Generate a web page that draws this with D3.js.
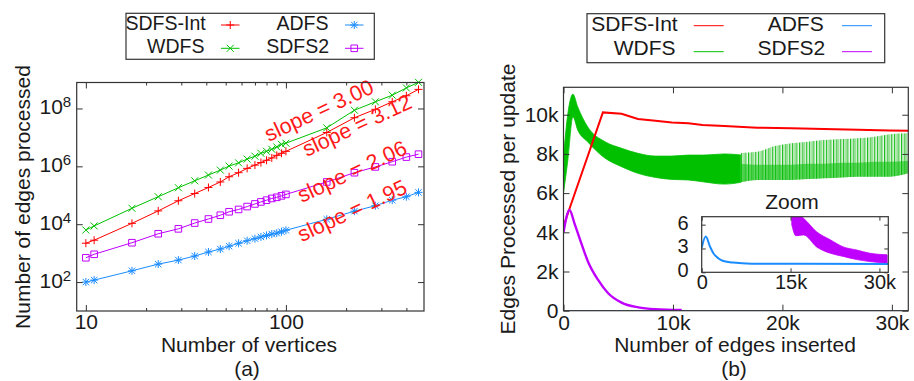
<!DOCTYPE html>
<html>
<head>
<meta charset="utf-8">
<script src="https://cdn.jsdelivr.net/npm/d3@7"></script>
<style>
  html, body { margin: 0; padding: 0; background: #fff; }
  svg { display: block; }
</style>
</head>
<body>
<figure id="chart" style="margin:0"></figure>
<script>
// ---------- panel (a): edges processed vs number of vertices (log-log)
const vertices = [10, 11, 17, 23, 29, 35, 41, 47, 52, 58, 64, 70, 75, 80, 85, 90, 95, 100, 160, 220, 280, 340, 400, 460];
const sdfsIntWork = [2200, 2800, 10700, 28800, 64600, 114800, 186000, 288000, 436500, 602600, 851000, 1.10e6, 1.35e6, 1.62e6, 1.95e6, 2.40e6, 2.82e6, 3.30e6, 1.48e7, 4.79e7, 9.33e7, 1.70e8, 2.75e8, 4.57e8];
const wdfsWork = [6300, 8700, 35500, 89100, 182000, 316000, 501000, 741000, 1.02e6, 1.32e6, 1.78e6, 2.24e6, 2.82e6, 3.31e6, 3.89e6, 4.68e6, 5.75e6, 6.30e6, 2.14e7, 8.70e7, 1.70e8, 2.88e8, 5.13e8, 8.0e8];
const adfsWork = [100, 117, 245, 417, 575, 794, 1096, 1380, 1738, 2188, 2692, 3162, 3631, 4074, 4571, 4898, 5495, 6166, 14790, 28180, 43650, 67600, 89100, 125900];
const sdfs2Work = [692, 912, 2291, 4677, 6918, 10960, 15140, 20420, 26920, 32360, 40740, 50120, 58880, 67610, 77620, 85110, 95500, 107200, 288400, 602600, 955000, 1.445e6, 2.09e6, 2.63e6];
const slopeNotes = [
  { text: 'slope = 3.00', v: 82, w: 7.0e6 },
  { text: 'slope = 3.12', v: 127, w: 2.1e6 },
  { text: 'slope = 2.06', v: 120, w: 5.4e4 },
  { text: 'slope = 1.95', v: 120, w: 2.4e3 }
];
const xMajorA = [10, 100];
const xMinorA = [20, 30, 40, 50, 60, 70, 80, 90, 200, 300, 400];
const yMajorA = [1e2, 1e4, 1e6, 1e8];

// ---------- panel (b): edges processed per update vs edges inserted
const sdfsIntEdges = [0, 450, 3600, 5300, 6800, 8400, 9900, 11400, 12700, 14700, 17700, 20800, 23800, 26900, 29800, 31500];
const sdfsIntPerUpdate = [4300, 5050, 10120, 10050, 9780, 9690, 9610, 9560, 9480, 9420, 9340, 9310, 9270, 9240, 9200, 9180];
const wdfsEdges = [0, 400, 860, 1300, 2200, 3800, 5300, 6800, 8400, 9900, 11400, 12700, 14700, 16200];
const wdfsHigh = [7860, 10070, 11050, 10400, 9390, 8620, 8290, 8030, 7890, 7890, 7940, 7940, 8000, 7950];
const wdfsLow = [6000, 7700, 9900, 9220, 8620, 7780, 7350, 7010, 6800, 6700, 6670, 6580, 6460, 6550];
const wdfsSparseEdges = [16200, 17700, 19300, 20800, 22300, 23800, 25400, 26900, 28400, 29800, 31500];
const wdfsSparseHigh = [8050, 8110, 8400, 8540, 8620, 8710, 8760, 8800, 8880, 9000, 9050];
const wdfsSparseCore = [7500, 7450, 7450, 7450, 7500, 7500, 7550, 7550, 7600, 7600, 7650];
const wdfsSparseLow = [6550, 6670, 6670, 6670, 6720, 6760, 6800, 6840, 6840, 6840, 7010];
const sdfs2Edges = [0, 550, 1000, 1630, 2240, 3160, 4080, 5300, 6840, 8370, 10800];
const sdfs2PerUpdate = [4000, 5140, 4460, 3440, 2500, 1570, 890, 410, 170, 80, 40];
const adfsEdges = [0, 680, 1400, 1970, 2800, 3650, 5300, 8400, 31500];
const adfsPerUpdate = [3.1, 4.5, 3.24, 2.4, 1.77, 1.43, 1.22, 1.09, 1.05];
const sdfs2ZoomEdges = [15200, 15900, 17200, 19400, 21700, 23900, 26200, 28400, 31300];
const sdfs2ZoomHigh = [7.5, 7.5, 6.8, 5.1, 4.1, 3.2, 2.8, 2.4, 2.2];
const sdfs2ZoomLow = [6.0, 4.6, 4.7, 3.2, 2.4, 2.0, 1.6, 1.35, 1.15];
const xTicksB = [0, 10000, 20000, 30000];
const yTicksB = [0, 2000, 4000, 6000, 8000, 10000];
const xTicksZoom = [0, 15000, 30000];
const yTicksZoom = [0, 3, 6];

const colors = { sdfsInt: '#ff0000', wdfs: '#00c000', adfs: '#1a8cff', sdfs2: '#c000ff' };
const font = 'Liberation Sans, Arial, Helvetica, sans-serif';
const ink = '#1a1a1a';
const frame = '#333';
const kFormat = d => d === 0 ? '0' : d / 1000 + 'k';

const svg = d3.select('figure#chart')
  .append('svg')
  .attr('width', 914)
  .attr('height', 381)
  .attr('font-family', font);

function markerPath(type, s) {
  const plus = `M${-s},0H${s}M0,${-s}V${s}`;
  const cross = `M${-s * 0.8},${-s * 0.8}L${s * 0.8},${s * 0.8}M${-s * 0.8},${s * 0.8}L${s * 0.8},${-s * 0.8}`;
  if (type === 'plus') return plus;
  if (type === 'cross') return `M${-s},${-s}L${s},${s}M${-s},${s}L${s},${-s}`;
  if (type === 'star') return plus + cross;
  return `M${-s},${-s}H${s}V${s}H${-s}Z`;
}

function styleAxis(g, size) {
  g.attr('font-family', font).attr('font-size', size).attr('color', frame);
  g.select('.domain').remove();
  g.selectAll('.tick text').attr('fill', ink);
}

// ================= panel (a)
const ma = { left: 76.7, right: 424, top: 82.5, bottom: 311 };
const xa = d3.scaleLog().domain([9, 490]).range([ma.left, ma.right]);
const ya = d3.scaleLog().domain([10, 7.9e8]).range([ma.bottom, ma.top]);

const seriesA = [
  { values: sdfsIntWork, color: colors.sdfsInt, marker: 'plus', size: 4 },
  { values: wdfsWork, color: colors.wdfs, marker: 'cross', size: 3.5 },
  { values: adfsWork, color: colors.adfs, marker: 'star', size: 4 },
  { values: sdfs2Work, color: colors.sdfs2, marker: 'square', size: 3.3 }
];

const lineA = d3.line().x(d => xa(d[0])).y(d => ya(d[1]));
const serieA = svg.append('g')
  .selectAll('g')
  .data(seriesA)
  .join('g');

serieA.append('path')
  .attr('fill', 'none')
  .attr('stroke', d => d.color)
  .attr('stroke-width', 1)
  .attr('d', d => lineA(vertices.map((v, i) => [v, d.values[i]])));

serieA.each(function (s) {
  d3.select(this).append('g')
    .selectAll('path')
    .data(vertices.map((v, i) => [v, s.values[i]]))
    .join('path')
    .attr('transform', d => `translate(${xa(d[0])},${ya(d[1])})`)
    .attr('d', markerPath(s.marker, s.size))
    .attr('fill', 'none')
    .attr('stroke', s.color)
    .attr('stroke-width', 1);
});

svg.append('g')
  .selectAll('text')
  .data(slopeNotes)
  .join('text')
  .attr('transform', d => `translate(${xa(d.v)},${ya(d.w)}) rotate(-25)`)
  .attr('fill', '#ff1a1a')
  .attr('font-size', 21.5)
  .text(d => d.text);

// ticks (inward) on all four sides
svg.append('g').attr('transform', `translate(0,${ma.bottom})`)
  .call(d3.axisBottom(xa).tickValues(xMajorA).tickSize(-6).tickPadding(3).tickFormat(d3.format('d')))
  .call(g => styleAxis(g, 21));
svg.append('g').attr('transform', `translate(0,${ma.bottom})`)
  .call(d3.axisBottom(xa).tickValues(xMinorA).tickSize(-3).tickFormat(''))
  .call(g => styleAxis(g, 21));
svg.append('g').attr('transform', `translate(0,${ma.top})`)
  .call(d3.axisTop(xa).tickValues(xMajorA).tickSize(-6).tickFormat(''))
  .call(g => styleAxis(g, 21));
svg.append('g').attr('transform', `translate(0,${ma.top})`)
  .call(d3.axisTop(xa).tickValues(xMinorA).tickSize(-3).tickFormat(''))
  .call(g => styleAxis(g, 21));
svg.append('g').attr('transform', `translate(${ma.left},0)`)
  .call(d3.axisLeft(ya).tickValues(yMajorA).tickSize(-6).tickFormat(''))
  .call(g => styleAxis(g, 21));
svg.append('g').attr('transform', `translate(${ma.right},0)`)
  .call(d3.axisRight(ya).tickValues(yMajorA).tickSize(-6).tickFormat(''))
  .call(g => styleAxis(g, 21));

svg.append('g')
  .attr('font-size', 21)
  .attr('fill', ink)
  .selectAll('text')
  .data(yMajorA)
  .join('text')
  .attr('x', ma.left - 5.5)
  .attr('y', d => ya(d) + 6)
  .attr('text-anchor', 'end')
  .call(t => {
    t.append('tspan').text('10');
    t.append('tspan').attr('font-size', 15).attr('dy', -7).text(d => Math.round(Math.log10(d)));
  });

svg.append('rect')
  .attr('x', ma.left).attr('y', ma.top)
  .attr('width', ma.right - ma.left).attr('height', ma.bottom - ma.top)
  .attr('fill', 'none').attr('stroke', frame).attr('stroke-width', 1.2);

svg.append('text')
  .attr('x', 249).attr('y', 352)
  .attr('text-anchor', 'middle').attr('font-size', 21).attr('fill', ink)
  .text('Number of vertices');
svg.append('text')
  .attr('transform', 'translate(30,197) rotate(-90)')
  .attr('text-anchor', 'middle').attr('font-size', 21).attr('fill', ink)
  .text('Number of edges processed');
svg.append('text')
  .attr('x', 247).attr('y', 375.5)
  .attr('text-anchor', 'middle').attr('font-size', 21).attr('fill', ink)
  .text('(a)');

// legend (a)
const legendA = svg.append('g').attr('font-size', 19.5).attr('fill', ink);
legendA.append('rect')
  .attr('x', 126).attr('y', 13.3).attr('width', 248.3).attr('height', 46)
  .attr('fill', 'none').attr('stroke', frame).attr('stroke-width', 1.2);
[
  { name: 'SDFS-Int', s: seriesA[0], tx: 205.7, ty: 30, lx: 221, ly: 25 },
  { name: 'WDFS', s: seriesA[1], tx: 204.5, ty: 52.5, lx: 221, ly: 48.3 },
  { name: 'ADFS', s: seriesA[2], tx: 328.5, ty: 30, lx: 345, ly: 25 },
  { name: 'SDFS2', s: seriesA[3], tx: 329, ty: 52.5, lx: 345, ly: 48.3 }
].forEach(e => {
  legendA.append('text').attr('x', e.tx).attr('y', e.ty).attr('text-anchor', 'end').text(e.name);
  legendA.append('line').attr('x1', e.lx).attr('x2', e.lx + 18.5).attr('y1', e.ly).attr('y2', e.ly)
    .attr('stroke', e.s.color).attr('stroke-width', 1);
  legendA.append('path').attr('transform', `translate(${e.lx + 9.25},${e.ly})`)
    .attr('d', markerPath(e.s.marker, e.s.size)).attr('fill', 'none')
    .attr('stroke', e.s.color).attr('stroke-width', 1);
});

// ================= panel (b)
const mb = { left: 563.5, right: 908.3, top: 87.3, bottom: 310.7 };
const xb = d3.scaleLinear().domain([0, 31500]).range([mb.left, mb.right]);
const yb = d3.scaleLinear().domain([0, 11400]).range([mb.bottom, mb.top]);

const defs = svg.append('defs');
defs.append('clipPath').attr('id', 'clipB')
  .append('rect').attr('x', mb.left).attr('y', mb.top)
  .attr('width', mb.right - mb.left).attr('height', mb.bottom - mb.top);
const stripes = defs.append('pattern').attr('id', 'wdfsStripes')
  .attr('patternUnits', 'userSpaceOnUse').attr('width', 3.4).attr('height', 10);
stripes.append('rect').attr('x', 0).attr('y', 0).attr('width', 1.1).attr('height', 10).attr('fill', '#10b810');
stripes.append('rect').attr('x', 1.7).attr('y', 0).attr('width', 1).attr('height', 10).attr('fill', '#9ae29a');

const plotB = svg.append('g').attr('clip-path', 'url(#clipB)');
const bandB = d3.area().curve(d3.curveMonotoneX).x(d => xb(d[0])).y0(d => yb(d[1])).y1(d => yb(d[2]));
const lineB = d3.line().x(d => xb(d[0])).y(d => yb(d[1]));
const smoothB = d3.line().curve(d3.curveMonotoneX).x(d => xb(d[0])).y(d => yb(d[1]));

plotB.append('path')
  .attr('fill', colors.wdfs)
  .attr('stroke', colors.wdfs).attr('stroke-width', 0.8)
  .attr('d', bandB(wdfsEdges.map((e, i) => [e, wdfsLow[i], wdfsHigh[i]])));
plotB.append('path')
  .attr('fill', 'url(#wdfsStripes)')
  .attr('d', bandB(wdfsSparseEdges.map((e, i) => [e, wdfsSparseLow[i], wdfsSparseHigh[i]])));
plotB.append('path')
  .attr('fill', colors.wdfs).attr('fill-opacity', 0.55)
  .attr('d', bandB(wdfsSparseEdges.map((e, i) => [e, wdfsSparseLow[i], wdfsSparseCore[i]])));
plotB.append('path')
  .attr('fill', 'none').attr('stroke', colors.sdfsInt).attr('stroke-width', 2)
  .attr('d', lineB(sdfsIntEdges.map((e, i) => [e, sdfsIntPerUpdate[i]])));
plotB.append('path')
  .attr('fill', 'none').attr('stroke', colors.adfs).attr('stroke-width', 1)
  .attr('d', smoothB(adfsEdges.map((e, i) => [e, adfsPerUpdate[i]])));
plotB.append('path')
  .attr('fill', 'none').attr('stroke', colors.sdfs2).attr('stroke-width', 2.4)
  .attr('d', smoothB(sdfs2Edges.map((e, i) => [e, sdfs2PerUpdate[i]])));

svg.append('g').attr('transform', `translate(0,${mb.bottom})`)
  .call(d3.axisBottom(xb).tickValues(xTicksB).tickSize(-6).tickPadding(4.4).tickFormat(kFormat))
  .call(g => styleAxis(g, 21));
svg.append('g').attr('transform', `translate(0,${mb.top})`)
  .call(d3.axisTop(xb).tickValues(xTicksB).tickSize(-6).tickFormat(''))
  .call(g => styleAxis(g, 21));
svg.append('g').attr('transform', `translate(${mb.left},0)`)
  .call(d3.axisLeft(yb).tickValues(yTicksB).tickSize(-6).tickPadding(5).tickFormat(kFormat))
  .call(g => styleAxis(g, 21));
svg.append('g').attr('transform', `translate(${mb.right},0)`)
  .call(d3.axisRight(yb).tickValues(yTicksB).tickSize(-6).tickFormat(''))
  .call(g => styleAxis(g, 21));

svg.append('rect')
  .attr('x', mb.left).attr('y', mb.top)
  .attr('width', mb.right - mb.left).attr('height', mb.bottom - mb.top)
  .attr('fill', 'none').attr('stroke', frame).attr('stroke-width', 1.2);

// inset "Zoom"
const mz = { left: 701.7, right: 888.3, top: 216.7, bottom: 272.3 };
const xz = d3.scaleLinear().domain([0, 31500]).range([mz.left, mz.right]);
const yz = d3.scaleLinear().domain([0, 7]).range([mz.bottom, mz.top]);
defs.append('clipPath').attr('id', 'clipZ')
  .append('rect').attr('x', mz.left).attr('y', mz.top)
  .attr('width', mz.right - mz.left).attr('height', mz.bottom - mz.top);

svg.append('rect')
  .attr('x', mz.left).attr('y', mz.top)
  .attr('width', mz.right - mz.left).attr('height', mz.bottom - mz.top)
  .attr('fill', '#fff');
const plotZ = svg.append('g').attr('clip-path', 'url(#clipZ)');
plotZ.append('path')
  .attr('fill', colors.sdfs2).attr('stroke', colors.sdfs2).attr('stroke-width', 0.8)
  .attr('d', d3.area().curve(d3.curveMonotoneX).x(d => xz(d[0])).y0(d => yz(d[1])).y1(d => yz(d[2]))(
    sdfs2ZoomEdges.map((e, i) => [e, sdfs2ZoomLow[i], sdfs2ZoomHigh[i]])));
plotZ.append('path')
  .attr('fill', 'none').attr('stroke', colors.adfs).attr('stroke-width', 2)
  .attr('d', d3.line().curve(d3.curveMonotoneX).x(d => xz(d[0])).y(d => yz(d[1]))(adfsEdges.map((e, i) => [e, adfsPerUpdate[i]])));

svg.append('g').attr('transform', `translate(0,${mz.bottom})`)
  .call(d3.axisBottom(xz).tickValues(xTicksZoom).tickSize(-4).tickPadding(2.5).tickFormat(kFormat))
  .call(g => styleAxis(g, 20));
svg.append('g').attr('transform', `translate(0,${mz.top})`)
  .call(d3.axisTop(xz).tickValues(xTicksZoom).tickSize(-4).tickFormat(''))
  .call(g => styleAxis(g, 20));
svg.append('g').attr('transform', `translate(${mz.left},0)`)
  .call(d3.axisLeft(yz).tickValues(yTicksZoom).tickSize(-4).tickPadding(13).tickFormat(d3.format('d')))
  .call(g => styleAxis(g, 20))
  .call(g => g.selectAll('.tick text').attr('dy', '0.22em'));
svg.append('g').attr('transform', `translate(${mz.right},0)`)
  .call(d3.axisRight(yz).tickValues(yTicksZoom).tickSize(-4).tickFormat(''))
  .call(g => styleAxis(g, 20));
svg.append('rect')
  .attr('x', mz.left).attr('y', mz.top)
  .attr('width', mz.right - mz.left).attr('height', mz.bottom - mz.top)
  .attr('fill', 'none').attr('stroke', frame).attr('stroke-width', 1.2);
svg.append('text')
  .attr('x', 792).attr('y', 208.5)
  .attr('text-anchor', 'middle').attr('font-size', 21).attr('fill', ink)
  .text('Zoom');

svg.append('text')
  .attr('x', 735).attr('y', 352)
  .attr('text-anchor', 'middle').attr('font-size', 21).attr('fill', ink)
  .text('Number of edges inserted');
svg.append('text')
  .attr('transform', 'translate(515,199) rotate(-90)')
  .attr('text-anchor', 'middle').attr('font-size', 21).attr('fill', ink)
  .text('Edges Processed per update');
svg.append('text')
  .attr('x', 734).attr('y', 375.5)
  .attr('text-anchor', 'middle').attr('font-size', 21).attr('fill', ink)
  .text('(b)');

// legend (b)
const legendB = svg.append('g').attr('font-size', 21).attr('fill', ink);
legendB.append('rect')
  .attr('x', 587).attr('y', 13.7).attr('width', 297.7).attr('height', 49)
  .attr('fill', 'none').attr('stroke', frame).attr('stroke-width', 1.2);
[
  { name: 'SDFS-Int', color: colors.sdfsInt, tx: 677.7, ty: 31, lx: 693.7, ly: 25.7 },
  { name: 'WDFS', color: colors.wdfs, tx: 675.5, ty: 55, lx: 693.7, ly: 51.7 },
  { name: 'ADFS', color: colors.adfs, tx: 823.7, ty: 31, lx: 842, ly: 25.7 },
  { name: 'SDFS2', color: colors.sdfs2, tx: 825.3, ty: 55, lx: 842, ly: 51.7 }
].forEach(e => {
  legendB.append('text').attr('x', e.tx).attr('y', e.ty).attr('text-anchor', 'end').text(e.name);
  legendB.append('line').attr('x1', e.lx).attr('x2', e.lx + 30).attr('y1', e.ly).attr('y2', e.ly)
    .attr('stroke', e.color).attr('stroke-width', 1);
});
</script>
</body>
</html>
